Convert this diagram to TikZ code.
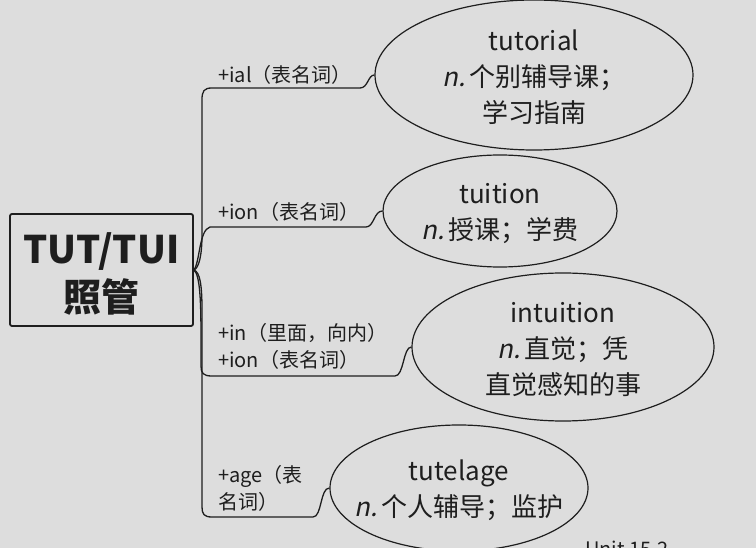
\documentclass[tikz,border=0pt]{standalone}
\usepackage{fontspec}
\setmainfont{Noto Sans CJK SC}
\newfontfamily\slantfont{Noto Sans CJK SC}[FakeSlant=0.2]
\usetikzlibrary{shapes.geometric}
\definecolor{bg}{RGB}{221,221,221}
\definecolor{ink}{RGB}{30,30,30}
\newcommand{\nn}{{\slantfont n.}\,}
\begin{document}
\begin{tikzpicture}[x=1pt,y=-1pt,
  rootbox/.style={draw=ink, line width=1.8pt, rounded corners=2pt, minimum width=183pt, minimum height=112pt, inner sep=0pt},
  roottext/.style={align=center, font=\fontsize{38}{48}\selectfont\bfseries, text=ink, inner sep=0pt},
  bubble/.style={draw=ink, line width=1.2pt, ellipse, inner sep=0pt},
  btext/.style={align=center, font=\fontsize{26}{36}\selectfont, text=ink, inner sep=0pt},
  lbl/.style={anchor=west, align=left, font=\fontsize{20}{27}\selectfont, text=ink, inner sep=0pt},
  link/.style={draw=ink, line width=1.3pt}]
\fill[bg] (0,0) rectangle (756,548);
\useasboundingbox (0,0) rectangle (756,548);

\node[rootbox] (root) at (101.5,270) {};
\node[roottext] (rt) at (101.5,274) {TUT/TUI\\照管};

\node[bubble, minimum width=318pt, minimum height=150pt] (e1) at (534,75) {};
\node[btext] (t1) at (534,77) {tutorial\\\nn 个别辅导课；\\学习指南};

\node[bubble, minimum width=234pt, minimum height=112pt] (e2) at (500,211) {};
\node[btext] (t2) at (500,214) {tuition\\\nn 授课；学费};

\node[bubble, minimum width=302pt, minimum height=148pt] (e3) at (563,347) {};
\node[btext] (t3) at (563,350) {intuition\\\nn 直觉；凭\\直觉感知的事};

\node[bubble, minimum width=258pt, minimum height=126pt] (e4) at (459,488) {};
\node[btext] (t4) at (459,490) {tutelage\\\nn 个人辅导；监护};

\node[lbl] (l1) at (218,75) {+ial（表名词）};
\node[lbl] (l2) at (218,212) {+ion（表名词）};
\node[lbl] (l3) at (218,346) {+in（里面，向内）\\+ion（表名词）};
\node[lbl] (l4) at (218,488) {+age（表\\名词）};

\node[anchor=base west, inner sep=0pt, font=\fontsize{20}{24}\selectfont, text=ink] (unit) at (585,556) {Unit 15.2};

\draw[link] (root.east) .. controls (199,268) and (202,255) .. (202,235) -- (202,100)
  .. controls (202,91) and (204,88) .. (212,88) -- (360,88)
  .. controls (368,88) and (368,75) .. (e1.west);
\draw[link] (root.east) .. controls (200,262) and (199,230) .. (210,227) -- (366,227)
  .. controls (374,227) and (374,211) .. (e2.west);
\draw[link] (root.east) .. controls (200,275) and (201,300) .. (201,340) -- (201,366)
  .. controls (201,373) and (203,376) .. (212,376) -- (395,376)
  .. controls (404,376) and (403,347) .. (e3.west);
\draw[link] (root.east) .. controls (200,272) and (202,285) .. (202,310) -- (202,507)
  .. controls (202,514) and (204,517) .. (212,517) -- (313,517)
  .. controls (322,517) and (320,488) .. (e4.west);
\end{tikzpicture}
\end{document}
